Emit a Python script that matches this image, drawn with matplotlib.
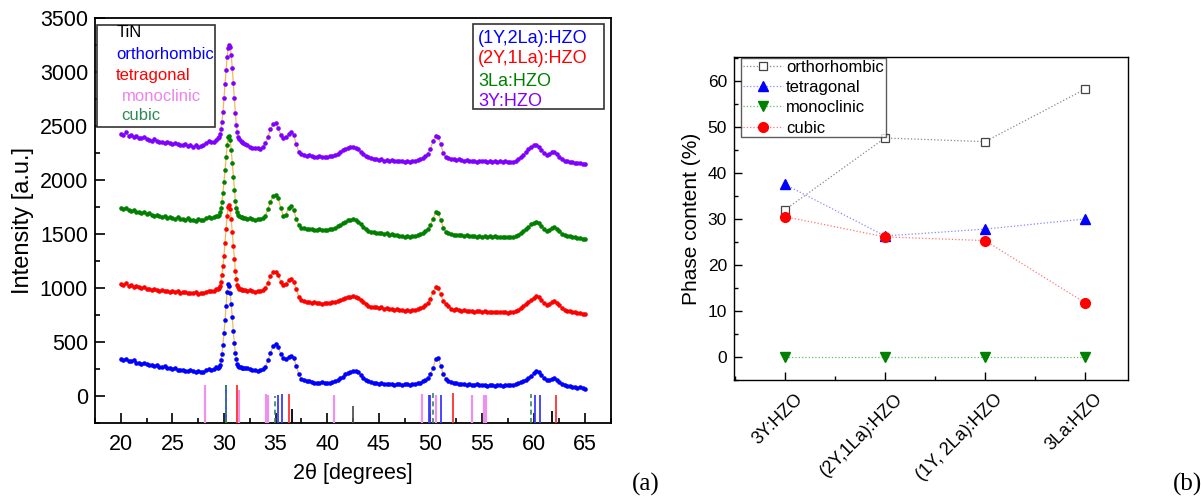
import numpy as np
import matplotlib
matplotlib.use("Agg")
import matplotlib.pyplot as plt
import matplotlib.transforms as mtransforms
from matplotlib.patches import Rectangle
from matplotlib.ticker import MultipleLocator

plt.rcParams['font.family'] = ['Liberation Sans', 'DejaVu Sans']

# ---------------- data: XRD patterns ----------------
# 2theta grid: 0.25 deg steps, 0.1 deg steps across the main (30.5 deg) reflection
two_theta = np.concatenate([np.arange(20.0, 29.3, 0.25),
                            np.arange(29.4, 31.85, 0.1),
                            np.arange(32.0, 65.001, 0.25)])

y_1Y2La = [
    340, 330, 345, 325, 320, 330, 310, 305, 300, 310, 295, 290, 285, 280, 290, 270,
    265, 275, 260, 255, 250, 260, 245, 240, 245, 235, 230, 240, 230, 225, 235, 220,
    225, 240, 250, 245, 250, 265,
    255, 265, 290, 330, 390, 470, 580, 700, 830, 960, 1035, 1020, 950, 850, 730, 600,
    490, 400, 340, 300, 280, 270, 265, 262, 260,
    260, 255, 250, 245, 240, 235, 245, 250, 270, 330, 400, 460, 480, 450, 390, 350,
    345, 360, 375, 350, 280, 200, 160, 145, 140, 135, 130, 125, 125, 120, 130, 125,
    120, 125, 130, 140, 150, 165, 180, 200, 215, 225, 235, 230, 220, 195, 170, 150,
    140, 130, 125, 120, 115, 120, 110, 115, 110, 115, 105, 110, 110, 105, 115, 110,
    105, 110, 115, 120, 125, 135, 150, 170, 200, 260, 340, 355, 280, 200, 160, 140,
    130, 125, 120, 115, 110, 115, 105, 110, 105, 100, 110, 105, 100, 105, 95, 100,
    100, 95, 100, 105, 95, 100, 105, 100, 100, 110, 120, 130, 140, 150, 165, 185,
    210, 230, 220, 195, 165, 145, 150, 160, 165, 150, 130, 110, 100, 90, 95, 85,
    80, 75, 80, 70, 65]

y_2Y1La = [
    1040, 1030, 1045, 1020, 1025, 1010, 1020, 1005, 1000, 1010, 995, 990, 985, 995, 980, 975,
    980, 970, 975, 965, 970, 960, 975, 955, 960, 965, 950, 955, 950, 960, 945, 955,
    950, 965, 975, 970, 975, 990,
    990, 1000, 1020, 1060, 1120, 1200, 1300, 1420, 1550, 1670, 1750, 1770, 1730, 1640, 1520, 1390,
    1270, 1160, 1080, 1030, 1005, 995, 990, 985, 985,
    985, 975, 980, 970, 965, 975, 970, 980, 1000, 1050, 1110, 1145, 1150, 1120, 1060, 1030,
    1040, 1070, 1080, 1060, 990, 920, 890, 880, 875, 870, 865, 870, 860, 865, 855, 860,
    860, 865, 870, 875, 880, 890, 900, 910, 915, 920, 925, 920, 910, 890, 870, 855,
    830, 825, 820, 825, 815, 820, 810, 815, 805, 810, 800, 805, 795, 800, 790, 795,
    790, 795, 800, 805, 815, 825, 840, 860, 900, 960, 1010, 1000, 940, 880, 850, 835,
    810, 800, 805, 795, 790, 795, 785, 790, 785, 780, 790, 785, 780, 785, 775, 780,
    778, 782, 775, 780, 775, 780, 772, 778, 775, 785, 800, 815, 835, 850, 870, 890,
    910, 925, 915, 890, 860, 845, 855, 870, 880, 865, 840, 815, 800, 790, 785, 780,
    775, 770, 765, 760, 755]

y_3La = [
    1740, 1730, 1745, 1720, 1715, 1725, 1700, 1705, 1695, 1700, 1685, 1690, 1680, 1670, 1675, 1665,
    1660, 1665, 1650, 1655, 1650, 1640, 1655, 1635, 1640, 1630, 1645, 1625, 1630, 1620, 1635, 1625,
    1630, 1645, 1655, 1650, 1655, 1670,
    1665, 1675, 1700, 1740, 1800, 1880, 1980, 2090, 2210, 2320, 2395, 2410, 2370, 2280, 2160, 2030,
    1910, 1810, 1740, 1700, 1680, 1665, 1660, 1655, 1650,
    1650, 1640, 1645, 1635, 1630, 1640, 1635, 1650, 1670, 1730, 1800, 1850, 1865, 1830, 1740, 1670,
    1680, 1740, 1760, 1720, 1640, 1580, 1560, 1555, 1550, 1545, 1550, 1540, 1540, 1545, 1535, 1540,
    1540, 1545, 1550, 1560, 1570, 1585, 1600, 1615, 1625, 1630, 1635, 1630, 1615, 1590, 1565, 1545,
    1530, 1520, 1515, 1510, 1505, 1510, 1500, 1505, 1495, 1500, 1490, 1495, 1480, 1485, 1475, 1480,
    1475, 1480, 1485, 1490, 1500, 1510, 1525, 1545, 1580, 1640, 1700, 1695, 1630, 1560, 1520, 1505,
    1500, 1495, 1490, 1495, 1490, 1485, 1490, 1480, 1485, 1480, 1475, 1480, 1475, 1480, 1470, 1478,
    1472, 1478, 1470, 1475, 1470, 1475, 1468, 1474, 1470, 1480, 1495, 1510, 1525, 1545, 1565, 1590,
    1605, 1615, 1600, 1575, 1545, 1525, 1540, 1560, 1565, 1550, 1525, 1500, 1490, 1480, 1478, 1470,
    1468, 1465, 1462, 1458, 1455]

y_3Y = [
    2430, 2420, 2440, 2410, 2415, 2400, 2410, 2390, 2385, 2395, 2380, 2370, 2365, 2375, 2360, 2355,
    2350, 2345, 2355, 2340, 2335, 2345, 2330, 2325, 2320, 2330, 2315, 2320, 2310, 2320, 2305, 2315,
    2320, 2345, 2360, 2350, 2355, 2370,
    2390, 2400, 2430, 2470, 2540, 2630, 2760, 2890, 3020, 3140, 3220, 3250, 3230, 3160, 3040, 2900,
    2760, 2620, 2510, 2440, 2400, 2380, 2360, 2350, 2345,
    2330, 2320, 2310, 2300, 2295, 2300, 2290, 2310, 2340, 2400, 2470, 2515, 2525, 2480, 2420, 2390,
    2395, 2430, 2445, 2420, 2330, 2260, 2240, 2230, 2225, 2230, 2220, 2215, 2215, 2220, 2210, 2215,
    2215, 2220, 2225, 2235, 2245, 2260, 2275, 2290, 2300, 2305, 2310, 2300, 2285, 2260, 2240, 2220,
    2210, 2200, 2195, 2190, 2185, 2190, 2180, 2185, 2180, 2185, 2175, 2180, 2175, 2180, 2170, 2175,
    2170, 2175, 2180, 2185, 2195, 2205, 2220, 2245, 2290, 2360, 2410, 2400, 2330, 2250, 2210, 2200,
    2195, 2190, 2185, 2190, 2185, 2180, 2185, 2175, 2180, 2175, 2170, 2178, 2172, 2178, 2168, 2175,
    2170, 2175, 2165, 2172, 2168, 2172, 2165, 2170, 2168, 2178, 2195, 2215, 2235, 2260, 2285, 2310,
    2320, 2325, 2310, 2280, 2250, 2230, 2245, 2255, 2255, 2240, 2215, 2195, 2180, 2172, 2168, 2165,
    2162, 2158, 2155, 2152, 2150]

series_labels = ['(1Y,2La):HZO', '(2Y,1La):HZO', '3La:HZO', '3Y:HZO']
series_colors = ['#0000ff', '#ff0000', '#008000', '#8000ff']

# reference patterns (stick positions, top value of each stick)
tin_pos = [36.6, 42.5, 61.8]
tin_top = [-123, -92, -140]
ortho_pos = [30.16, 35.26, 35.58, 49.84, 49.97, 51.0, 60.16, 60.6]
ortho_top = [100, 6, 15, 6, 6, 6, 6, 6]
tetra_pos = [31.25, 36.29, 52.2, 62.2]
tetra_top = [100, 15, 25, 6]
mono_pos = [28.13, 31.45, 34.03, 34.3, 40.67, 49.22, 50.5, 54.06, 55.2, 55.35]
mono_top = [100, 60, 16, 6, 6, 16, 6, 6, 6, 6]
cubic_pos = [30.2, 34.95, 50.26, 59.77]
cubic_top = [100, 0, 37, 16]

ref_labels = ['TiN', 'orthorhombic', 'tetragonal', 'monoclinic', 'cubic']
ref_colors = ['#000000', '#0000ff', '#ff0000', '#ee82ee', '#2e8b57']

# ---------------- data: phase content ----------------
samples = ['3Y:HZO', '(2Y,1La):HZO', '(1Y, 2La):HZO', '3La:HZO']
orthorhombic = [32.0, 47.6, 46.8, 58.2]
tetragonal = [37.5, 26.3, 27.8, 30.0]
monoclinic = [0.0, 0.0, 0.0, 0.0]
cubic = [30.5, 26.1, 25.3, 11.8]

# ---------------- figure ----------------
fig = plt.figure(figsize=(12.01, 4.98), dpi=100)
W, H = 1201, 498

def axrect(x0, x1, y0, y1):
    return [x0 / W, 1 - y1 / H, (x1 - x0) / W, (y1 - y0) / H]

ax1 = fig.add_axes(axrect(95, 611, 18, 423))
ax2 = fig.add_axes(axrect(734, 1128, 57, 380))

# ---- left panel ----
for ys, c in zip([y_1Y2La, y_2Y1La, y_3La, y_3Y], series_colors):
    ax1.plot(two_theta, ys, color='#f0bb55', lw=0.9, zorder=2)
    ax1.plot(two_theta, ys, ls='none', marker='o', ms=3.3, mec='none', mfc=c, zorder=3)

ybot = -250
ax1.vlines(tin_pos, ybot, tin_top, colors=['#000000', '#555555', '#000000'], lw=1.3, zorder=4)
ax1.vlines(mono_pos, ybot, mono_top, colors='#ee90ee', lw=1.6, zorder=4)
ax1.vlines(ortho_pos, ybot, ortho_top, colors='#3a3aff', lw=1.3, zorder=4)
ax1.vlines(tetra_pos, ybot, tetra_top, colors='#ff3030', lw=1.3, zorder=4)
ax1.vlines(cubic_pos, ybot, cubic_top, colors='#2e8b57', lw=1.2, linestyles=(0, (3, 2)), zorder=5)

ax1.set_xlim(17.5, 67.5)
ax1.set_ylim(-250, 3500)
ax1.xaxis.set_major_locator(MultipleLocator(5))
ax1.xaxis.set_minor_locator(MultipleLocator(2.5))
ax1.yaxis.set_major_locator(MultipleLocator(500))
ax1.yaxis.set_minor_locator(MultipleLocator(250))
ax1.tick_params(which='both', direction='in', width=1.2)
ax1.tick_params(which='major', length=7, labelsize=15.5)
ax1.tick_params(which='minor', length=3.5)
ax1.tick_params(axis='x', pad=8)
ax1.tick_params(axis='y', pad=5)
for s in ax1.spines.values():
    s.set_linewidth(1.3)
ax1.set_xlabel('2θ [degrees]', fontsize=15.5, labelpad=6)
ax1.set_ylabel('Intensity [a.u.]', fontsize=17, labelpad=4)

# text legend for reference patterns (top-left)
ax1.add_patch(Rectangle((0.0039, 0.7309), 0.2287, 0.2519, transform=ax1.transAxes,
                        fill=True, fc='white', ec='#333333', lw=1.2, zorder=6))
ref_x = [0.0426, 0.0407, 0.0407, 0.0523, 0.0504]
ref_y = [0.963, 0.911, 0.857, 0.807, 0.760]
for t, c, xx, yy in zip(ref_labels, ref_colors, ref_x, ref_y):
    ax1.text(xx, yy, t, color=c, fontsize=12, transform=ax1.transAxes,
             ha='left', va='center', zorder=7)

# series legend (top-right)
ax1.add_patch(Rectangle((0.7326, 0.7753), 0.2539, 0.2099, transform=ax1.transAxes,
                        fill=True, fc='white', ec='#333333', lw=1.2, zorder=6))
ser_y = [0.9506, 0.9012, 0.8444, 0.7926]
for t, c, yy in zip(series_labels, series_colors, ser_y):
    ax1.text(0.7422, yy, t, color=c, fontsize=13, transform=ax1.transAxes,
             ha='left', va='center', zorder=7)

# ---- right panel ----
xpos = np.arange(1, len(samples) + 1)
ax2.plot(xpos, orthorhombic, ls=':', lw=0.9, color='#888888', marker='s', ms=5.5,
         mfc='white', mec='#444444', mew=0.9, label='orthorhombic')
ax2.plot(xpos, tetragonal, ls=':', lw=0.9, color='#8888ff', marker='^', ms=7.5,
         mfc='#0000ff', mec='#0000ff', label='tetragonal')
ax2.plot(xpos, monoclinic, ls=':', lw=0.9, color='#66bb66', marker='v', ms=7.5,
         mfc='#008000', mec='#008000', label='monoclinic')
ax2.plot(xpos, cubic, ls=':', lw=0.9, color='#ff7777', marker='o', ms=7,
         mfc='#ff0000', mec='#ff0000', label='cubic')

ax2.set_xlim(0.49, 4.43)
ax2.set_ylim(-5, 65.2)
ax2.set_xticks(xpos)
ax2.set_xticklabels(samples)
ax2.xaxis.set_minor_locator(MultipleLocator(0.5))
ax2.yaxis.set_major_locator(MultipleLocator(10))
ax2.yaxis.set_minor_locator(MultipleLocator(5))
ax2.tick_params(which='both', direction='in', width=1.0)
ax2.tick_params(which='major', length=6, labelsize=12.5)
ax2.tick_params(which='minor', length=3)
ax2.tick_params(axis='y', pad=5)
ax2.tick_params(axis='x', pad=12, labelsize=13)
for s in ax2.spines.values():
    s.set_linewidth(1.0)
offset = mtransforms.ScaledTranslation(15 / 100, 0, fig.dpi_scale_trans)
for lab in ax2.get_xticklabels():
    lab.set_rotation(45)
    lab.set_ha('right')
    lab.set_va('center')
    lab.set_rotation_mode('anchor')
    lab.set_transform(lab.get_transform() + offset)
ax2.set_ylabel('Phase content (%)', fontsize=15, labelpad=5)

leg = ax2.legend(loc='upper left', bbox_to_anchor=(0.018, 0.997), borderaxespad=0,
                 fontsize=12, frameon=True, fancybox=False, handlelength=2.4,
                 handletextpad=0.2, labelspacing=0.32, borderpad=0.1)
leg.get_frame().set_edgecolor('#333333')
leg.get_frame().set_linewidth(1.0)

# panel letters
fig.text(646 / W, 1 - 484 / H, '(a)', fontsize=18, family='Liberation Serif',
         ha='center', va='center')
fig.text(1188 / W, 1 - 484 / H, '(b)', fontsize=18, family='Liberation Serif',
         ha='center', va='center')

fig.savefig('out.png', dpi=100)
